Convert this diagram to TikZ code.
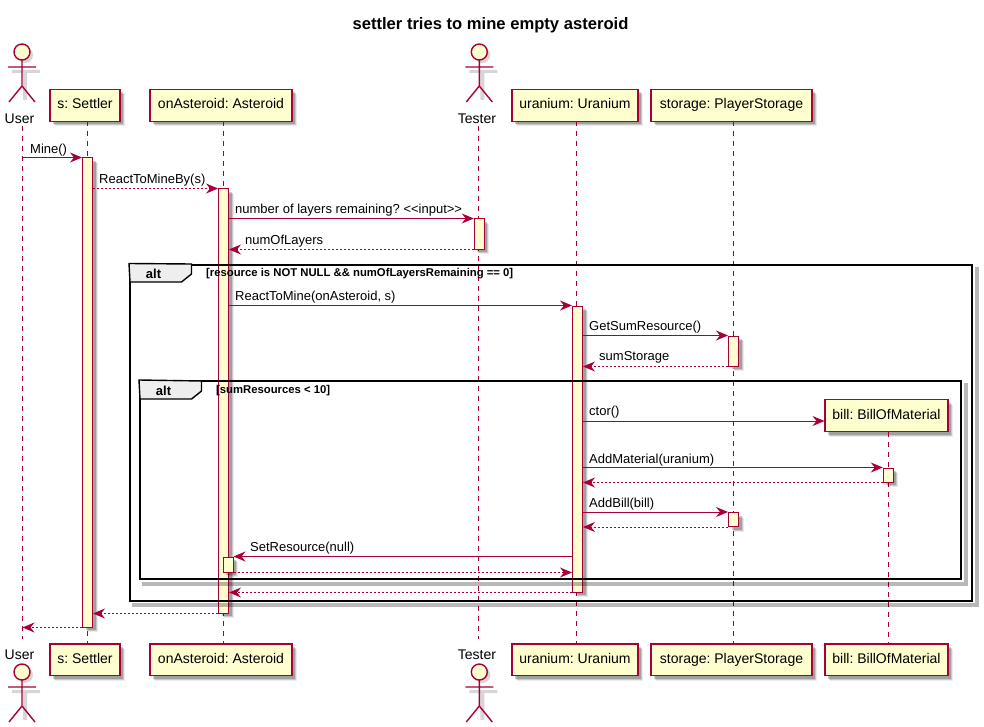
\documentclass[tikz,border=0pt]{standalone}
\usepackage{fontspec}
\setmainfont{Liberation Sans}
\frenchspacing
\usetikzlibrary{positioning}
\usetikzlibrary{shadows,arrows.meta}
\definecolor{umlred}{HTML}{A80036}
\definecolor{umlfill}{HTML}{FEFECE}
\definecolor{tabfill}{HTML}{EEEEEE}
\tikzset{
  softshadow/.style={
    general shadow={shadow xshift=5pt,shadow yshift=-5pt,fill=black,opacity=.08,draw=none},
    general shadow={shadow xshift=4pt,shadow yshift=-4pt,fill=black,opacity=.14,draw=none},
    general shadow={shadow xshift=3pt,shadow yshift=-3pt,fill=black,opacity=.2,draw=none}},
  lifebox/.style={draw=umlred,fill=umlfill,line width=1.3pt,inner sep=0pt,softshadow,text height=10pt,text depth=3pt,font=\fontsize{14}{16}\selectfont},
  actbar/.style={draw=umlred,fill=umlfill,line width=1pt,inner sep=0pt,minimum width=10pt,softshadow},
  lifeline/.style={umlred,line width=.9pt,dash pattern=on 5pt off 5pt},
  msg/.style={umlred,line width=1pt,-{Stealth[length=12pt,width=10pt,inset=4pt]}},
  retmsg/.style={msg,dash pattern=on 2pt off 2pt},
  msgtext/.style={anchor=west,inner sep=0pt,font=\fontsize{13}{15}\selectfont},
  actortext/.style={inner sep=0pt,font=\fontsize{14}{16}\selectfont},
  altframe/.style={draw=black,line width=2pt,inner sep=0pt},
  frameshade/.style={draw=black,opacity=.28,line width=4pt},
  alttab/.style={draw=black,line width=1.4pt,fill=tabfill},
  alttext/.style={inner sep=0pt,font=\fontsize{13}{15}\bfseries\selectfont},
  guardtext/.style={anchor=west,inner sep=0pt,font=\fontsize{11.3}{13}\bfseries\selectfont},
  actorman/.pic={
    \fill[black,opacity=.16] (3,3) circle (8) (-10,18) rectangle (18,21) (1,21) rectangle (5,48);
    \draw[umlred,line width=1.4pt,fill=umlfill] (0,0) circle (8);
    \draw[umlred,line width=1.4pt] (0,8)--(0,34) (-14,15)--(14,15) (-13,50)--(0,34)--(13,50);
  }
}
\begin{document}
\begin{tikzpicture}[x=1pt,y=-1pt]
  \useasboundingbox (0,0) rectangle (984,727);
  \fill[white] (0,0) rectangle (984,727);

  \node[inner sep=0pt,font=\fontsize{16.6}{20}\bfseries\selectfont] (title) at (490.5,25.5) {settler tries to mine empty asteroid};

  % actors and heads
  \pic at (22,52) {actorman};
  \pic at (479.3,52) {actorman};
  \node[actortext] (hdUser) at (19.5,118.5) {User};
  \node[actortext] (hdTester) at (477,118.5) {Tester};
  \node[lifebox,minimum width=70pt,minimum height=32pt] (hdSettler) at (85,105.3) {s: Settler};
  \node[lifebox,minimum width=142pt,minimum height=32pt] (hdAsteroid) at (221,105.3) {onAsteroid: Asteroid};
  \node[lifebox,minimum width=126pt,minimum height=32pt] (hdUranium) at (575,105.3) {uranium: Uranium};
  \node[lifebox,minimum width=161pt,minimum height=32pt] (hdStorage) at (731.5,105.3) {storage: PlayerStorage};
  \node[lifebox,minimum width=123pt,minimum height=32pt] (hdBill) at (886.5,415.5) {bill: BillOfMaterial};

  % feet
  \pic at (22,672) {actorman};
  \pic at (479.3,672) {actorman};
  \node[actortext] (ftUser) at (19.5,654.5) {User};
  \node[actortext] (ftTester) at (477,654.5) {Tester};
  \node[lifebox,minimum width=70pt,minimum height=31.5pt] (ftSettler) at (85,659.8) {s: Settler};
  \node[lifebox,minimum width=142pt,minimum height=31.5pt] (ftAsteroid) at (221,659.8) {onAsteroid: Asteroid};
  \node[lifebox,minimum width=126pt,minimum height=31.5pt] (ftUranium) at (575,659.8) {uranium: Uranium};
  \node[lifebox,minimum width=161pt,minimum height=31.5pt] (ftStorage) at (731.5,659.8) {storage: PlayerStorage};
  \node[lifebox,minimum width=123pt,minimum height=31.5pt] (ftBill) at (886.5,659.8) {bill: BillOfMaterial};

  % lifelines
  \coordinate (topUser) at (22.5,126);
  \coordinate (botUser) at (22.5,639);
  \coordinate (topSettler) at (87.5,121);
  \coordinate (botSettler) at (87.5,644);
  \coordinate (topAsteroid) at (223.5,121);
  \coordinate (botAsteroid) at (223.5,644);
  \coordinate (topTester) at (478.5,126);
  \coordinate (botTester) at (478.5,639);
  \coordinate (topUranium) at (576.5,121);
  \coordinate (botUranium) at (576.5,644);
  \coordinate (topStorage) at (733.3,121);
  \coordinate (botStorage) at (733.3,644);
  \coordinate (topBill) at (888.3,432);
  \coordinate (botBill) at (888.3,644);
  \draw[lifeline] (topUser)--(botUser);
  \draw[lifeline] (topSettler)--(botSettler);
  \draw[lifeline] (topAsteroid)--(botAsteroid);
  \draw[lifeline] (topTester)--(botTester);
  \draw[lifeline] (topUranium)--(botUranium);
  \draw[lifeline] (topStorage)--(botStorage);
  \draw[lifeline] (topBill)--(botBill);

  % activation bars
  \node[actbar,minimum height=469pt] (barSettler) at (87.5,392.5) {};
  \node[actbar,minimum height=424pt] (barAsteroid) at (223.5,401) {};
  \node[actbar,minimum height=30pt] (barTester) at (479.3,234) {};
  \node[actbar,minimum height=286pt] (barUranium) at (577.5,449) {};
  \node[actbar,minimum height=30pt] (barStorageA) at (733.5,351) {};
  \node[actbar,minimum height=14pt] (barStorageB) at (733.5,519.5) {};
  \node[actbar,minimum height=14pt] (barBill) at (888.3,475) {};
  \node[actbar,minimum height=15pt] (barInner) at (228,564.5) {};

  % alt frames
  \node[altframe,minimum width=842pt,minimum height=336pt] (altOuter) at (551,432.5) {};
  \node[altframe,minimum width=821pt,minimum height=198pt] (altInner) at (550.5,480) {};
  \draw[frameshade] ([shift={(3.5,3)}]altOuter.north east)--([shift={(3.5,3.5)}]altOuter.south east)--([shift={(3,3.5)}]altOuter.south west);
  \draw[frameshade] ([shift={(3.5,3)}]altInner.north east)--([shift={(3.5,3.5)}]altInner.south east)--([shift={(3,3.5)}]altInner.south west);
  \draw[alttab] (altOuter.north west)--(191.5,264)--(191.5,274)--(181.5,282)--(130,282)--cycle;
  \draw[alttab] (altInner.north west)--(201.5,381)--(201.5,391)--(191.5,399)--(140,399)--cycle;
  \node[alttext] (altOuterText) at (153.5,274) {alt};
  \node[alttext] (altInnerText) at (163.5,391) {alt};
  \node[guardtext] (guardOuter) at (206,274) {[resource is NOT NULL \&\& numOfLayersRemaining == 0]};
  \node[guardtext] (guardInner) at (216,390.5) {[sumResources < 10]};

  % messages
  \draw[msg] (topUser|-barSettler.north)--(barSettler.north west);
  \draw[retmsg] (barSettler.east|-barAsteroid.north)--(barAsteroid.north west);
  \coordinate (askLayers) at (barAsteroid.east|-barTester.north);
  \draw[msg] (askLayers)--(barTester.north west);
  \coordinate (gotLayers) at (barAsteroid.east|-barTester.south);
  \draw[retmsg] (barTester.south west)--(gotLayers);
  \coordinate (mineFrom) at (barAsteroid.east|-barUranium.north);
  \draw[msg] (mineFrom)--(barUranium.north west);
  \coordinate (sumFrom) at (barUranium.east|-barStorageA.north);
  \draw[msg] (sumFrom)--(barStorageA.north west);
  \coordinate (sumTo) at (barUranium.east|-barStorageA.south);
  \draw[retmsg] (barStorageA.south west)--(sumTo);
  \coordinate (ctorFrom) at (582.5,421);
  \coordinate (ctorTo) at (824.5,421);
  \draw[msg] (ctorFrom)--(ctorTo);
  \coordinate (addFrom) at (barUranium.east|-barBill.north);
  \draw[msg] (addFrom)--(barBill.north west);
  \coordinate (addTo) at (barUranium.east|-barBill.south);
  \draw[retmsg] (barBill.south west)--(addTo);
  \coordinate (billFrom) at (barUranium.east|-barStorageB.north);
  \draw[msg] (billFrom)--(barStorageB.north west);
  \coordinate (billTo) at (barUranium.east|-barStorageB.south);
  \draw[retmsg] (barStorageB.south west)--(billTo);
  \coordinate (setFrom) at (barUranium.west|-barInner.north);
  \draw[msg] (setFrom)--(barInner.north east);
  \coordinate (setTo) at (barUranium.west|-barInner.south);
  \draw[retmsg] (barInner.south east)--(setTo);
  \coordinate (doneTo) at (barAsteroid.east|-barUranium.south);
  \draw[retmsg] (barUranium.south west)--(doneTo);
  \coordinate (backTo) at (barSettler.east|-barAsteroid.south);
  \draw[retmsg] (barAsteroid.south west)--(backTo);
  \coordinate (userTo) at (topUser|-barSettler.south);
  \draw[retmsg] (barSettler.south west)--(userTo);

  \node[msgtext] (txtMine) at (30,150.5) {Mine()};
  \node[msgtext] (txtReact) at (99,180) {ReactToMineBy(s)};
  \node[msgtext] (txtAsk) at (235,210.5) {number of layers remaining? <{}<input>{}>};
  \node[msgtext] (txtNum) at (245,241) {numOfLayers};
  \node[msgtext] (txtMineRes) at (235,297) {ReactToMine(onAsteroid, s)};
  \node[msgtext] (txtSum) at (589,327) {GetSumResource()};
  \node[msgtext] (txtStorage) at (599,357.5) {sumStorage};
  \node[msgtext] (txtCtor) at (589,412.5) {ctor()};
  \node[msgtext] (txtAdd) at (589,460) {AddMaterial(uranium)};
  \node[msgtext] (txtBill) at (589,504) {AddBill(bill)};
  \node[msgtext] (txtSet) at (250,548.5) {SetResource(null)};
\end{tikzpicture}
\end{document}
